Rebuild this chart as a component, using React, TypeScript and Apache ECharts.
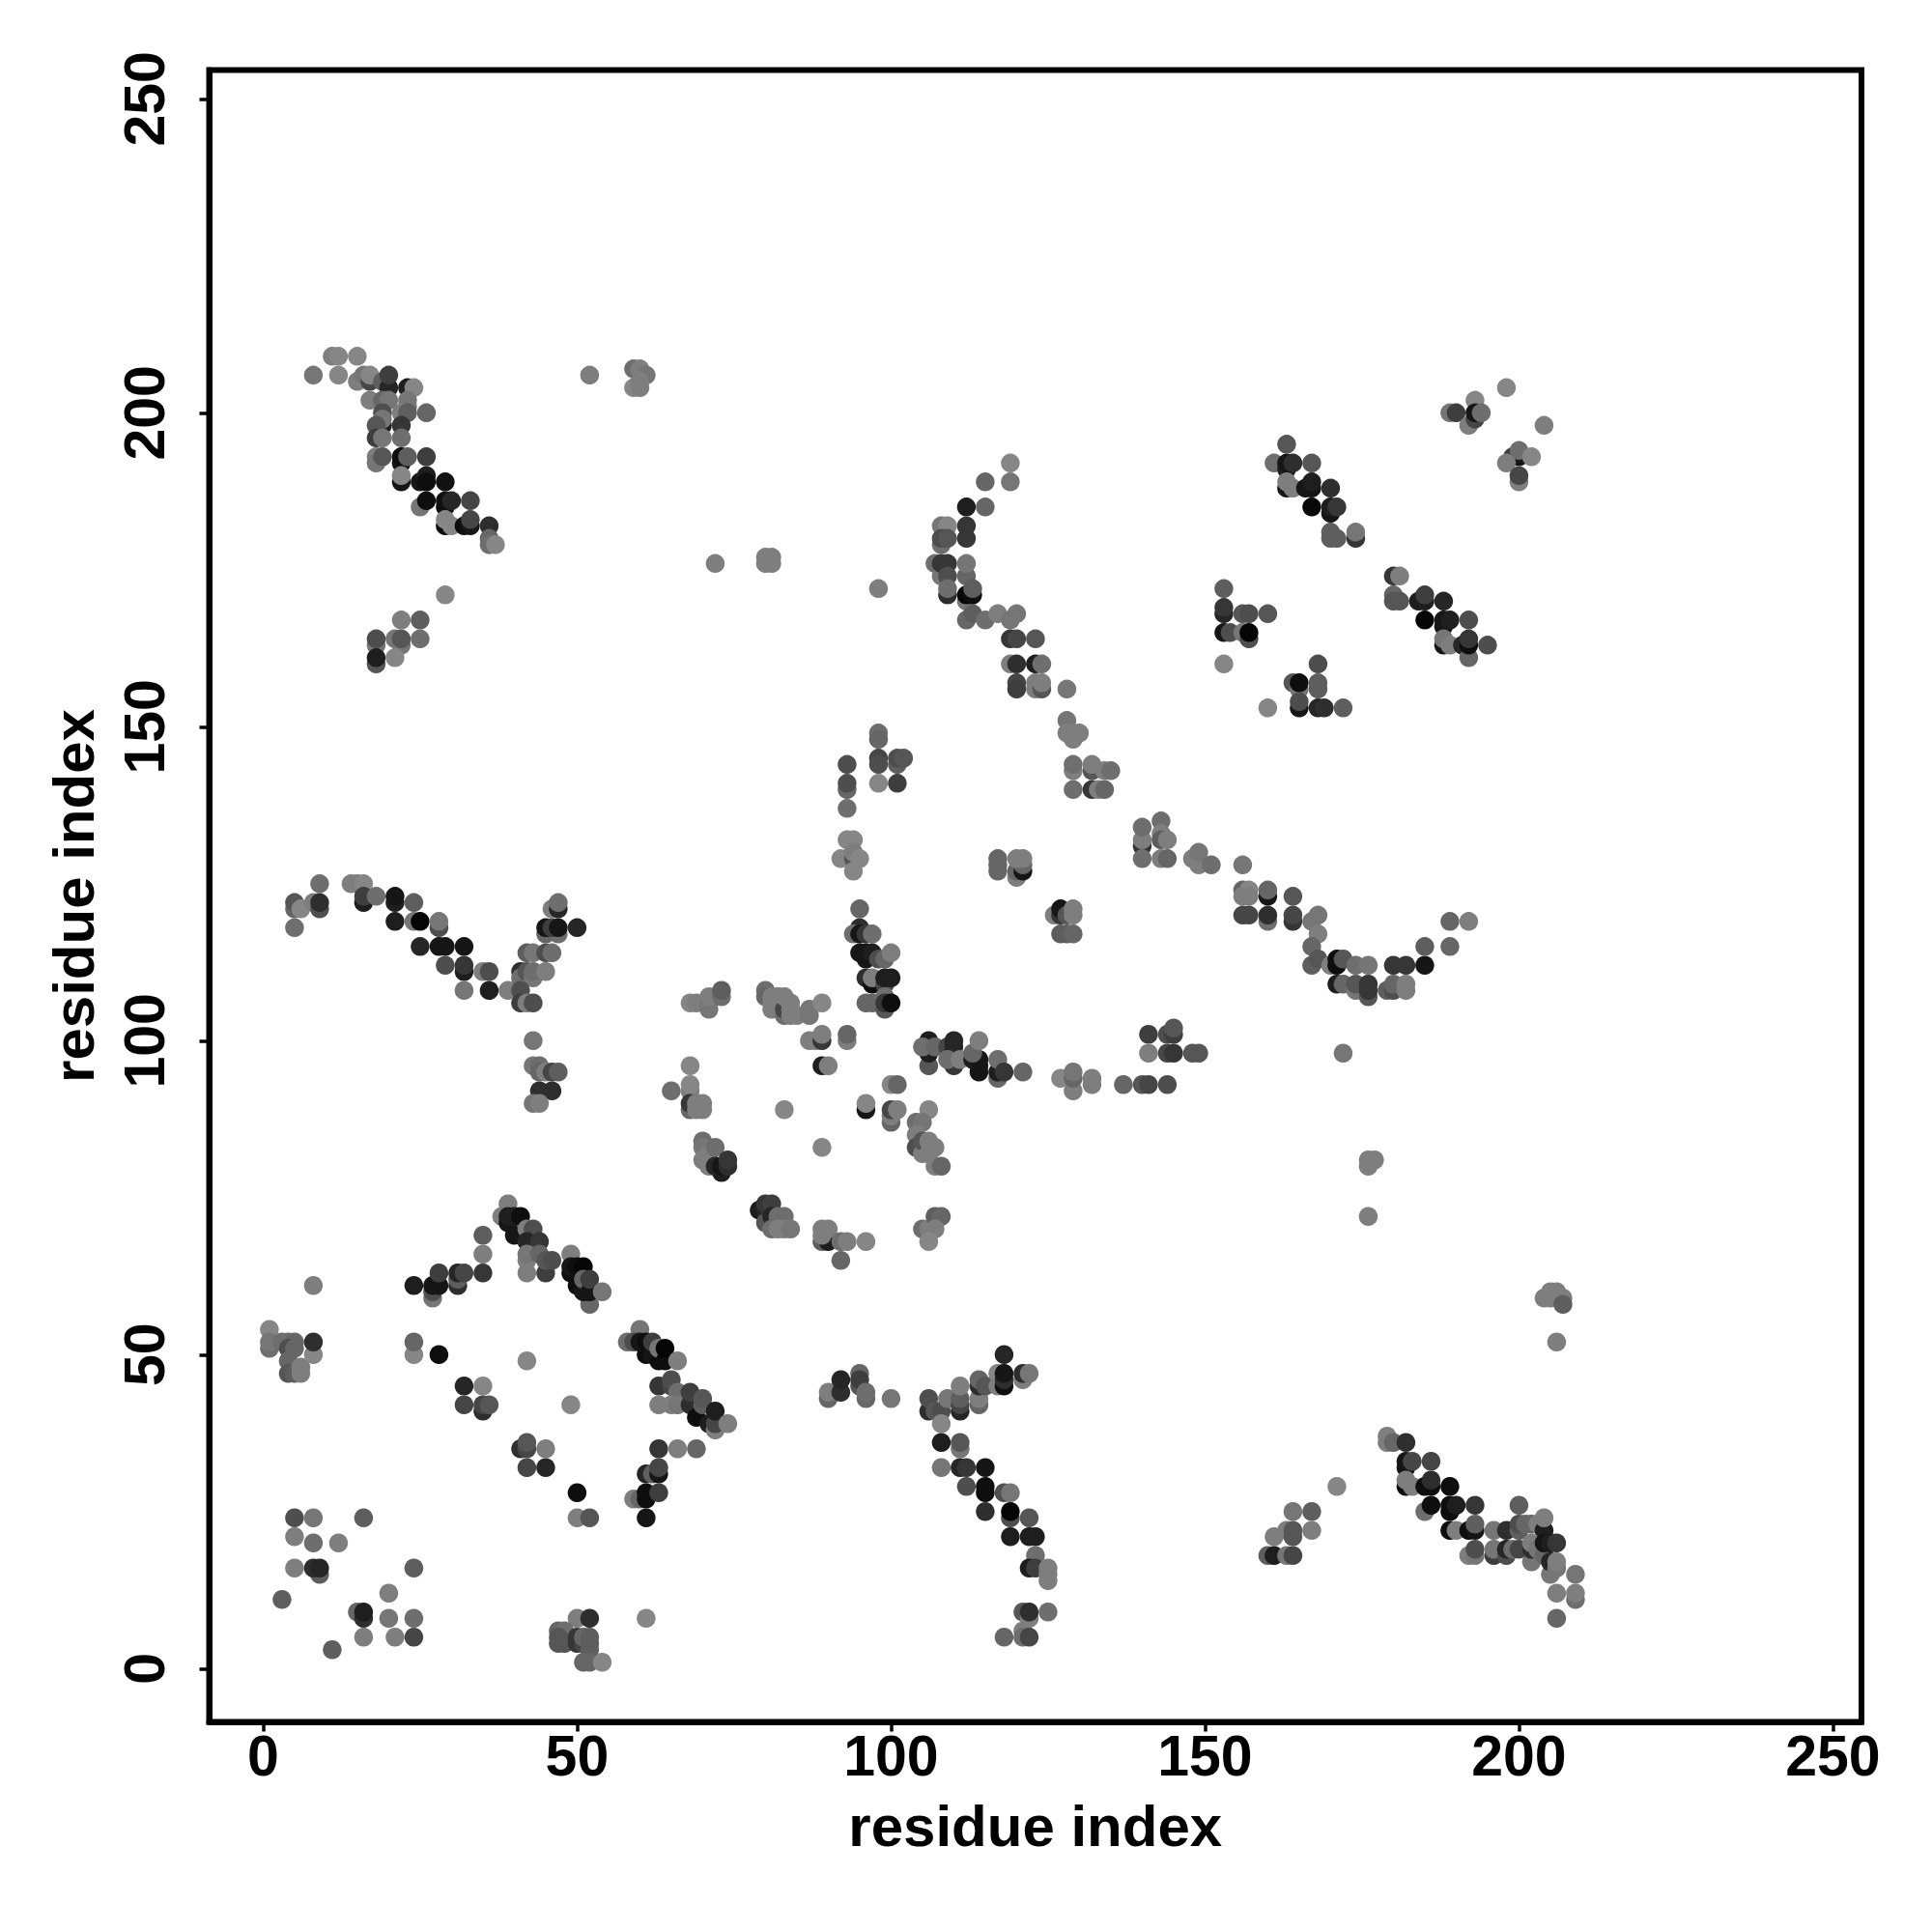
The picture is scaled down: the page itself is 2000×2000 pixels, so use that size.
import React, { useEffect, useRef } from "react";
import * as echarts from "echarts";

type P = [number, number, number];
const tickValues = [0, 50, 100, 150, 200, 250];
const axisTitle = "residue index";

const topLeft: P[] = [[8,206,0x70],[11,209,0x78],[12,209,0x80],[15,209,0x80],[12,206,0x80],[15,205,0x78],[16,206,0x70],[17,205,0x40],[17,206,0x80],[17,202,0x78],[19,205,0x58],[20,204,0x20],[20,206,0x38],[19,202,0x60],[20,202,0x70],[19,200,0x48],[19,198,0x18],[19,199,0x70],[18,198,0x50],[18,196,0x38],[19,196,0x70],[23,204,0x18],[24,204,0x80],[23,202,0x70],[23,201,0x70],[22,200,0x78],[23,200,0x58],[26,200,0x60],[22,198,0x30],[22,196,0x68],[18,193,0x78],[18,192,0x70],[19,193,0x50],[22,192,0x10],[22,193,0x08],[23,193,0x58],[26,193,0x38],[22,189,0x10],[22,190,0x80],[25,189,0x10],[26,190,0x18],[26,189,0x08],[29,189,0x0c],[25,185,0x70],[26,186,0x08],[29,185,0x08],[29,186,0x0a],[30,186,0x20],[33,186,0x40],[29,182,0x08],[29,183,0x80],[30,182,0x80],[32,182,0x08],[33,182,0x10],[33,183,0x40],[36,182,0x28],[36,180,0x60],[36,179,0x68],[37,179,0x80],[29,171,0x80],[22,167,0x78],[25,167,0x58],[21,164,0x70],[22,163,0x70],[22,164,0x50],[25,164,0x68],[18,163,0x70],[18,164,0x48],[18,160,0x50],[18,161,0x18],[21,161,0x80]];
const upperCentre: P[] = [[52,206,0x78],[59,207,0x68],[60,207,0x78],[61,206,0x70],[59,204,0x80],[60,205,0x78],[60,204,0x78],[72,176,0x78],[80,177,0x78],[81,177,0x78],[80,176,0x78],[81,176,0x78],[98,172,0x78],[119,192,0x80],[115,189,0x60],[119,189,0x70],[112,185,0x18],[115,185,0x60],[112,182,0x30],[112,180,0x30],[108,179,0x68],[108,182,0x70],[109,182,0x80],[108,180,0x48],[109,180,0x50],[107,176,0x68],[108,174,0x70],[108,176,0x30],[109,176,0x30],[112,174,0x60],[112,176,0x70],[109,174,0x48],[109,171,0x28],[109,172,0x68],[112,170,0x70],[112,171,0x00],[113,171,0x08],[113,172,0x58],[112,167,0x60],[113,168,0x58],[115,167,0x68],[117,168,0x78],[119,167,0x70],[120,168,0x70],[119,164,0x30],[120,164,0x40],[123,164,0x50],[119,160,0x78],[120,160,0x28],[123,160,0x18],[124,160,0x68],[120,157,0x40],[120,156,0x38],[123,156,0x78],[123,157,0x78],[124,156,0x50],[124,157,0x78],[128,156,0x70],[128,151,0x70],[129,148,0x78],[128,149,0x78],[129,149,0x78],[130,149,0x78],[129,143,0x78],[129,144,0x68],[132,143,0x50],[132,144,0x78],[134,143,0x78],[135,143,0x68],[129,140,0x68],[132,140,0x30],[133,140,0x78],[134,140,0x60]];
const upperRight: P[] = [[153,172,0x58],[153,168,0x20],[153,169,0x30],[156,168,0x50],[157,168,0x48],[160,168,0x50],[153,165,0x10],[154,165,0x48],[156,165,0x70],[157,164,0x48],[157,165,0x00],[153,160,0x80],[160,153,0x80],[163,195,0x50],[161,192,0x68],[163,191,0x18],[163,192,0x10],[164,192,0x28],[167,192,0x50],[163,188,0x10],[163,189,0x78],[164,188,0x78],[166,188,0x10],[167,188,0x10],[167,189,0x18],[170,188,0x28],[167,185,0x02],[170,184,0x10],[170,185,0x18],[171,185,0x30],[170,181,0x58],[170,180,0x58],[171,180,0x58],[174,180,0x30],[174,181,0x70],[198,204,0x80],[193,202,0x80],[189,200,0x70],[190,200,0x38],[192,198,0x78],[193,199,0x40],[193,200,0x10],[194,200,0x68],[204,198,0x78],[199,193,0x38],[200,193,0x10],[200,194,0x68],[202,193,0x80],[198,192,0x78],[200,189,0x78],[200,190,0x40],[180,174,0x30],[181,174,0x78],[180,171,0x60],[180,170,0x50],[181,170,0x50],[184,170,0x18],[185,170,0x18],[185,171,0x38],[188,170,0x20],[185,167,0x00],[188,166,0x10],[188,167,0x10],[189,167,0x18],[192,167,0x48],[188,163,0x10],[188,164,0x70],[189,163,0x78],[191,163,0x20],[192,161,0x60],[192,163,0x08],[192,164,0x30],[195,163,0x48],[168,160,0x48],[164,157,0x50],[165,156,0x70],[165,157,0x08],[168,156,0x58],[168,157,0x58],[165,153,0x10],[165,154,0x48],[168,153,0x20],[169,153,0x28],[172,153,0x58]];
const leftMiddle: P[] = [[9,125,0x68],[14,125,0x78],[15,125,0x78],[16,125,0x80],[5,121,0x60],[5,122,0x50],[6,121,0x80],[8,122,0x78],[9,121,0x48],[9,122,0x28],[5,118,0x68],[16,122,0x18],[16,123,0x38],[18,123,0x68],[21,122,0x18],[21,123,0x10],[24,122,0x58],[21,119,0x18],[24,119,0x70],[25,119,0x00],[28,118,0x48],[28,119,0x70],[25,115,0x20],[28,115,0x10],[29,115,0x10],[32,115,0x10],[29,112,0x48],[32,111,0x18],[32,112,0x30],[35,111,0x78],[36,111,0x48],[32,108,0x70],[36,108,0x18],[39,108,0x78],[41,111,0x28],[41,110,0x68],[42,111,0x50],[43,110,0x70],[43,111,0x68],[45,111,0x78],[41,108,0x48],[41,106,0x38],[42,106,0x78],[43,106,0x48],[42,114,0x58],[43,114,0x70],[45,114,0x48],[46,114,0x68],[45,117,0x60],[47,117,0x68],[45,118,0x10],[46,118,0x38],[47,118,0x10],[50,118,0x20],[46,121,0x78],[47,121,0x20],[47,122,0x68],[43,100,0x70],[43,96,0x70],[44,96,0x68],[44,95,0x60],[45,95,0x78],[46,95,0x40],[47,95,0x58],[44,92,0x28],[46,92,0x28],[43,90,0x70],[44,90,0x78]];
const centre: P[] = [[98,149,0x68],[98,148,0x60],[98,145,0x40],[98,144,0x48],[101,144,0x58],[101,145,0x48],[102,145,0x50],[98,141,0x80],[101,141,0x38],[93,144,0x48],[93,140,0x60],[93,141,0x48],[93,137,0x68],[93,132,0x80],[94,132,0x80],[92,129,0x80],[94,129,0x50],[94,130,0x78],[95,129,0x80],[94,127,0x80],[117,129,0x60],[117,128,0x60],[117,127,0x60],[120,126,0x78],[120,127,0x60],[121,127,0x10],[121,128,0x60],[120,129,0x78],[121,129,0x78],[95,121,0x60],[95,118,0x28],[94,117,0x68],[95,117,0x10],[96,117,0x30],[97,117,0x68],[96,113,0x10],[95,114,0x10],[96,114,0x10],[97,114,0x18],[98,113,0x48],[99,113,0x60],[100,114,0x78],[96,110,0x28],[97,109,0x08],[97,110,0x78],[99,109,0x40],[99,110,0x18],[100,110,0x18],[96,106,0x60],[97,106,0x60],[99,105,0x50],[99,107,0x68],[99,106,0x30],[100,106,0x08],[68,106,0x80],[69,106,0x78],[71,105,0x70],[71,106,0x70],[71,107,0x78],[73,107,0x68],[73,108,0x58],[80,108,0x68],[80,107,0x60],[81,105,0x78],[81,106,0x78],[81,107,0x78],[82,107,0x78],[83,104,0x68],[83,105,0x40],[83,107,0x78],[84,104,0x78],[84,105,0x78],[84,106,0x78],[85,104,0x78],[87,104,0x70],[87,105,0x70],[89,106,0x80],[87,100,0x78],[88,100,0x78],[89,100,0x30],[89,101,0x78],[93,100,0x78],[93,101,0x60],[89,96,0x18],[90,96,0x78]];
const rightMiddle: P[] = [[106,96,0x50],[106,98,0x18],[106,100,0x18],[105,99,0x68],[107,99,0x60],[109,99,0x40],[110,96,0x30],[110,99,0x20],[110,100,0x20],[109,97,0x68],[111,97,0x78],[114,95,0x10],[114,96,0x10],[113,97,0x18],[114,97,0x10],[113,98,0x60],[114,100,0x78],[117,94,0x60],[117,95,0x18],[117,97,0x68],[118,95,0x30],[121,95,0x60],[126,120,0x78],[127,120,0x30],[127,121,0x10],[128,120,0x50],[129,120,0x78],[129,121,0x78],[127,117,0x58],[128,117,0x58],[129,117,0x60],[140,131,0x30],[140,132,0x78],[140,134,0x68],[143,135,0x68],[143,133,0x78],[143,132,0x58],[144,132,0x78],[140,129,0x68],[143,129,0x78],[144,129,0x60],[148,129,0x78],[149,128,0x78],[149,130,0x70],[151,128,0x68],[156,128,0x70],[156,124,0x60],[157,124,0x80],[156,123,0x78],[157,123,0x78],[160,123,0x10],[160,124,0x60],[164,123,0x50],[156,120,0x40],[157,120,0x40],[160,119,0x68],[160,120,0x28],[164,119,0x30],[164,120,0x40],[167,119,0x70],[168,120,0x70],[168,117,0x78],[167,115,0x60],[167,112,0x58],[168,113,0x50],[170,112,0x78],[171,112,0x08],[171,113,0x08],[172,113,0x50],[174,112,0x68],[176,112,0x70],[180,112,0x30],[182,112,0x30],[185,112,0x10],[185,115,0x58],[189,115,0x60],[189,119,0x60],[192,119,0x78],[171,109,0x18],[172,109,0x60],[174,108,0x70],[174,109,0x50],[176,107,0x50],[176,108,0x30],[176,109,0x30],[179,108,0x58],[180,108,0x48],[180,109,0x60],[182,108,0x78],[182,109,0x78],[172,98,0x70],[141,101,0x38],[144,101,0x48],[145,101,0x38],[145,102,0x50],[141,98,0x78],[144,98,0x40],[145,98,0x30],[148,98,0x50],[149,98,0x50],[127,94,0x80],[129,92,0x78],[129,94,0x60],[129,95,0x70],[132,93,0x78],[132,94,0x78],[137,93,0x60],[140,93,0x50],[141,93,0x40],[144,93,0x48],[176,81,0x78],[177,81,0x78],[176,80,0x78],[176,72,0x78]];
const lowerCentre: P[] = [[65,92,0x68],[68,96,0x80],[68,92,0x78],[68,93,0x80],[68,89,0x60],[68,90,0x30],[69,89,0x78],[69,90,0x78],[70,89,0x78],[70,90,0x78],[83,89,0x80],[96,89,0x10],[96,90,0x80],[100,93,0x80],[101,93,0x60],[100,87,0x60],[100,88,0x78],[100,89,0x40],[101,89,0x78],[106,89,0x80],[104,87,0x68],[105,87,0x70],[104,85,0x78],[104,83,0x48],[105,82,0x78],[105,84,0x50],[106,84,0x78],[106,82,0x78],[107,83,0x78],[107,80,0x78],[108,80,0x60],[70,84,0x68],[70,83,0x70],[70,81,0x78],[71,82,0x78],[72,83,0x68],[71,80,0x78],[73,79,0x18],[72,80,0x20],[73,80,0x10],[74,80,0x28],[74,81,0x30],[89,83,0x80],[79,73,0x18],[80,73,0x20],[80,74,0x30],[81,74,0x38],[80,71,0x50],[81,72,0x20],[82,72,0x68],[83,72,0x68],[81,70,0x68],[82,70,0x78],[83,70,0x78],[84,70,0x70],[89,68,0x58],[90,68,0x18],[89,69,0x78],[89,70,0x78],[90,70,0x78],[92,68,0x68],[93,68,0x78],[96,68,0x80],[92,65,0x60],[105,70,0x68],[106,70,0x78],[107,72,0x58],[108,72,0x60],[107,70,0x78],[106,68,0x80]];
const lowerLeft: P[] = [[24,61,0x18],[27,59,0x70],[27,60,0x48],[27,61,0x10],[28,61,0x10],[28,63,0x38],[31,61,0x28],[31,62,0x58],[31,63,0x20],[32,63,0x40],[35,63,0x30],[35,66,0x78],[35,69,0x58],[39,74,0x78],[38,72,0x78],[39,71,0x10],[39,72,0x18],[40,72,0x18],[41,72,0x08],[40,69,0x10],[41,69,0x10],[42,70,0x78],[43,70,0x48],[42,68,0x20],[44,68,0x30],[42,63,0x78],[42,65,0x78],[42,66,0x70],[44,66,0x60],[45,63,0x38],[45,65,0x50],[46,65,0x48],[49,66,0x78],[49,63,0x08],[49,64,0x10],[50,64,0x08],[51,64,0x00],[50,61,0x08],[52,58,0x60],[51,60,0x10],[51,62,0x60],[52,60,0x10],[52,62,0x38],[54,60,0x70],[24,50,0x80],[24,52,0x60],[28,50,0x08],[42,49,0x80],[32,45,0x20],[35,45,0x80],[32,42,0x40],[35,41,0x28],[35,42,0x40],[36,42,0x50],[49,42,0x80],[41,35,0x28],[42,35,0x40],[42,36,0x50],[45,35,0x78],[42,32,0x40],[45,32,0x20],[50,28,0x08],[50,24,0x78],[52,24,0x50],[8,61,0x78],[1,54,0x80],[1,51,0x68],[1,52,0x70],[3,52,0x68],[4,52,0x68],[5,52,0x60],[4,51,0x48],[5,51,0x60],[4,49,0x60],[4,47,0x50],[5,47,0x58],[6,48,0x78],[6,47,0x78],[8,50,0x80],[8,52,0x28]];
const cornerLeft: P[] = [[5,24,0x48],[8,24,0x70],[16,24,0x58],[5,21,0x78],[8,20,0x68],[12,20,0x78],[5,16,0x78],[9,15,0x58],[8,16,0x28],[9,16,0x20],[24,16,0x58],[3,11,0x58],[20,12,0x78],[15,9,0x60],[16,8,0x28],[16,9,0x18],[20,8,0x70],[24,8,0x68],[16,5,0x78],[21,5,0x78],[24,5,0x40],[11,3,0x58],[50,8,0x78],[52,8,0x28],[47,6,0x60],[48,6,0x68],[47,5,0x50],[47,4,0x50],[48,4,0x50],[50,4,0x30],[50,5,0x30],[51,4,0x40],[51,5,0x60],[52,4,0x58],[52,5,0x58],[52,3,0x58],[51,1,0x60],[52,1,0x60],[54,1,0x80],[61,8,0x80]];
const lowerMid: P[] = [[60,54,0x70],[58,52,0x68],[59,52,0x48],[60,52,0x10],[61,52,0x08],[61,50,0x08],[62,50,0x10],[62,52,0x38],[63,49,0x08],[63,51,0x70],[64,49,0x08],[64,51,0x00],[66,49,0x78],[63,45,0x30],[65,45,0x40],[65,46,0x48],[66,44,0x68],[63,42,0x78],[65,42,0x78],[66,42,0x70],[68,42,0x28],[68,44,0x38],[69,40,0x08],[70,42,0x58],[70,43,0x50],[71,39,0x18],[72,38,0x78],[72,39,0x40],[72,41,0x18],[74,39,0x78],[63,35,0x30],[66,35,0x78],[69,35,0x60],[61,31,0x20],[62,31,0x58],[63,31,0x10],[63,32,0x40],[59,27,0x78],[60,27,0x60],[61,27,0x08],[61,28,0x08],[63,28,0x38],[61,24,0x10],[90,43,0x60],[90,44,0x78],[92,44,0x28],[92,46,0x20],[95,47,0x60],[95,45,0x50],[95,46,0x38],[96,43,0x60],[96,44,0x68],[100,43,0x70]];
const lowerArc: P[] = [[106,41,0x28],[106,43,0x48],[107,41,0x50],[108,41,0x48],[108,39,0x80],[109,43,0x70],[111,41,0x20],[111,42,0x40],[111,43,0x58],[111,45,0x78],[114,42,0x60],[114,43,0x78],[114,45,0x28],[114,46,0x60],[115,45,0x50],[118,50,0x20],[117,45,0x78],[117,47,0x80],[118,45,0x08],[118,46,0x28],[118,47,0x10],[121,46,0x78],[121,47,0x28],[122,47,0x70],[108,36,0x18],[111,35,0x70],[111,36,0x50],[108,32,0x70],[111,32,0x20],[112,32,0x30],[115,32,0x10],[112,29,0x48],[115,28,0x08],[115,29,0x08],[118,28,0x48],[119,28,0x70],[115,25,0x28],[119,24,0x48],[119,25,0x00],[122,24,0x50],[119,21,0x18],[122,21,0x18],[123,21,0x18],[123,18,0x68],[122,16,0x18],[123,16,0x38],[125,14,0x78],[125,15,0x78],[125,16,0x78],[121,9,0x50],[122,8,0x78],[122,9,0x28],[125,9,0x68],[118,5,0x60],[121,6,0x78],[121,5,0x68],[122,5,0x40]];
const lowerRight: P[] = [[179,37,0x78],[179,36,0x78],[180,36,0x60],[182,36,0x28],[182,32,0x10],[182,33,0x10],[183,33,0x40],[186,33,0x40],[182,29,0x08],[182,30,0x78],[183,29,0x78],[185,29,0x08],[186,29,0x08],[186,30,0x28],[189,29,0x08],[185,25,0x68],[186,26,0x08],[189,25,0x08],[189,26,0x08],[190,26,0x18],[193,26,0x30],[189,22,0x08],[190,22,0x78],[192,22,0x08],[193,22,0x10],[193,23,0x58],[196,22,0x70],[198,22,0x28],[192,18,0x78],[193,18,0x70],[193,19,0x48],[196,18,0x38],[196,19,0x70],[198,18,0x48],[198,19,0x20],[199,19,0x68],[200,19,0x40],[200,26,0x58],[200,22,0x58],[200,23,0x48],[201,23,0x60],[202,23,0x60],[203,23,0x78],[204,22,0x18],[204,24,0x78],[202,17,0x70],[202,19,0x28],[202,20,0x78],[203,19,0x70],[204,18,0x60],[204,20,0x10],[205,20,0x18],[206,20,0x30],[205,15,0x70],[205,17,0x20],[206,16,0x70],[206,17,0x78],[209,15,0x70],[206,12,0x78],[209,11,0x68],[209,12,0x78],[206,8,0x60],[171,29,0x80],[164,25,0x70],[167,25,0x58],[163,22,0x78],[164,21,0x50],[164,22,0x50],[167,22,0x78],[161,21,0x78],[160,18,0x58],[161,18,0x18],[163,18,0x70],[164,18,0x40],[204,59,0x78],[205,59,0x78],[205,60,0x78],[206,60,0x78],[207,59,0x78],[207,58,0x58],[206,52,0x78]];

const points: P[] = [...topLeft, ...upperCentre, ...upperRight, ...leftMiddle, ...centre, ...rightMiddle, ...lowerCentre, ...lowerLeft, ...cornerLeft, ...lowerMid, ...lowerArc, ...lowerRight];

const font = "'Liberation Sans', Arial, sans-serif";
const axisBase = {
  type: "value" as const,
  name: axisTitle,
  nameLocation: "middle" as const,
  nameTextStyle: { fontFamily: font, fontWeight: "bold" as const, fontSize: 60, color: "#000" },
  axisLine: { show: true, onZero: false, lineStyle: { color: "#000", width: 6 } },
  splitLine: { show: false },
  axisTick: { show: true, length: 10, customValues: tickValues, lineStyle: { color: "#000", width: 3.5 } },
  axisLabel: { show: true, customValues: tickValues, fontFamily: font, fontWeight: "bold" as const, fontSize: 59, color: "#000", hideOverlap: false },
};

export default function App() {
  const ref = useRef<HTMLDivElement>(null);
  useEffect(() => {
    const chart = echarts.init(ref.current!, undefined, { renderer: "svg" });
    chart.setOption({
      animation: false,
      backgroundColor: "#fff",
      grid: { show: true, left: 216.5, top: 72.5, width: 1710.5, height: 1710, borderColor: "#000", borderWidth: 6, backgroundColor: "transparent" },
      xAxis: { ...axisBase, min: -8.6, max: 254.55, nameGap: 78, axisLabel: { ...axisBase.axisLabel, margin: 6 } },
      yAxis: { ...axisBase, min: -8.5, max: 254.6, nameGap: 110, nameRotate: 90, axisLabel: { ...axisBase.axisLabel, rotate: 90, margin: 37 } },
      series: [{
        type: "scatter",
        symbol: "circle",
        symbolSize: 19.5,
        silent: true,
        data: points,
        encode: { x: 0, y: 1 },
        itemStyle: {
          opacity: 1,
          color: (p: any) => { const g = Math.min(p.value[2] + 6, 255); return `rgb(${g},${g},${g})`; },
        },
      }],
    });
    return () => chart.dispose();
  }, []);
  return <div ref={ref} style={{ position: "absolute", left: 0, top: 0, width: 2000, height: 2000 }} />;
}
